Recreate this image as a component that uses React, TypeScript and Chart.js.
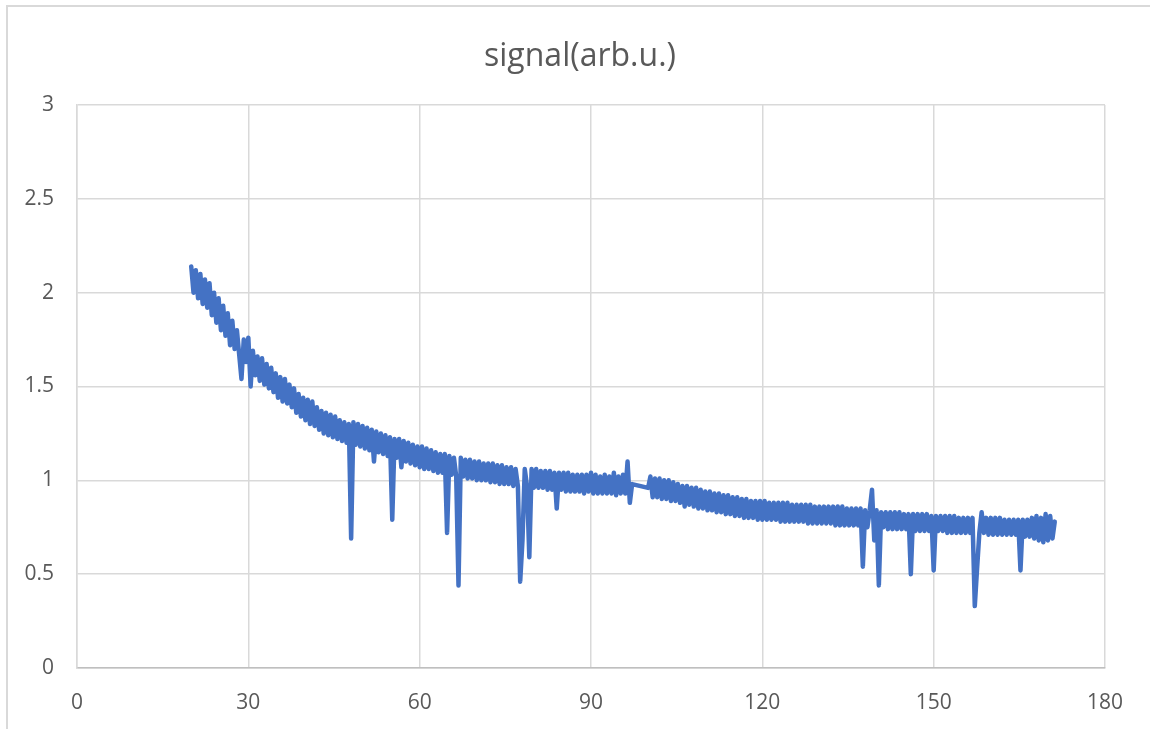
import React, { useEffect, useRef } from "react";
import { Chart, registerables } from "chart.js";

Chart.register(...registerables);

const chartTitle = "signal(arb.u.)";

// sampling grid of the two recorded runs (x in arbitrary units)
const xStartA = 20.0;
const xStartB = 100.0;
const xStep = 0.4;

const signalA = [
  2.14, 2.00, 2.12, 1.97, 2.10, 1.94, 2.07, 1.92, 2.05, 1.88,
  2.00, 1.84, 1.97, 1.80, 1.93, 1.77, 1.89, 1.72, 1.85, 1.70,
  1.80, 1.67, 1.54, 1.75, 1.63, 1.76, 1.50, 1.69, 1.56, 1.66,
  1.53, 1.65, 1.51, 1.62, 1.49, 1.60, 1.47, 1.57, 1.44, 1.55,
  1.42, 1.54, 1.41, 1.51, 1.39, 1.49, 1.36, 1.46, 1.34, 1.44,
  1.32, 1.43, 1.30, 1.42, 1.29, 1.39, 1.27, 1.37, 1.25, 1.36,
  1.24, 1.35, 1.23, 1.34, 1.22, 1.32, 1.21, 1.31, 1.20, 1.30,
  0.69, 1.31, 1.19, 1.30, 1.18, 1.29, 1.17, 1.28, 1.16, 1.27,
  1.10, 1.26, 1.15, 1.25, 1.14, 1.24, 1.13, 1.23, 0.79, 1.22,
  1.12, 1.22, 1.07, 1.21, 1.10, 1.20, 1.09, 1.19, 1.08, 1.18,
  1.07, 1.18, 1.06, 1.17, 1.06, 1.16, 1.05, 1.15, 1.04, 1.14,
  1.04, 1.14, 0.72, 1.13, 1.03, 1.12, 1.02, 0.44, 1.12, 1.02,
  1.11, 1.01, 1.11, 1.01, 1.10, 1.00, 1.10, 1.00, 1.09, 1.00,
  1.09, 0.99, 1.09, 0.99, 1.08, 0.98, 1.08, 0.98, 1.07, 0.98,
  1.07, 0.97, 1.06, 0.97, 0.46, 0.68, 1.06, 0.97, 0.59, 1.06,
  0.96, 1.06, 0.96, 1.05, 0.96, 1.05, 0.95, 1.05, 0.95, 1.04,
  0.85, 1.04, 0.95, 1.04, 0.94, 1.04, 0.94, 1.03, 0.94, 1.03,
  0.94, 1.03, 0.93, 1.03, 0.94, 1.04, 0.93, 1.03, 0.93, 1.02,
  0.93, 1.03, 0.93, 1.02, 0.93, 1.04, 0.92, 1.02, 0.93, 1.03,
  0.93, 1.10, 0.88, 0.98,
];

const signalB = [
  0.96, 1.02, 0.91, 1.01, 0.91, 1.01, 0.90, 1.00, 0.90, 1.00,
  0.89, 0.99, 0.89, 0.98, 0.88, 0.97, 0.86, 0.97, 0.87, 0.96,
  0.86, 0.96, 0.85, 0.95, 0.85, 0.94, 0.84, 0.94, 0.84, 0.93,
  0.83, 0.93, 0.83, 0.92, 0.82, 0.92, 0.82, 0.91, 0.81, 0.91,
  0.81, 0.90, 0.80, 0.90, 0.80, 0.89, 0.80, 0.89, 0.79, 0.89,
  0.79, 0.89, 0.79, 0.88, 0.79, 0.88, 0.79, 0.88, 0.78, 0.88,
  0.78, 0.88, 0.78, 0.87, 0.78, 0.87, 0.78, 0.87, 0.78, 0.87,
  0.77, 0.87, 0.77, 0.86, 0.77, 0.86, 0.77, 0.86, 0.77, 0.86,
  0.77, 0.86, 0.76, 0.86, 0.76, 0.86, 0.76, 0.85, 0.76, 0.85,
  0.76, 0.85, 0.76, 0.85, 0.54, 0.84, 0.75, 0.84, 0.95, 0.68,
  0.84, 0.44, 0.83, 0.75, 0.83, 0.74, 0.83, 0.74, 0.83, 0.74,
  0.83, 0.74, 0.82, 0.74, 0.82, 0.50, 0.82, 0.73, 0.82, 0.73,
  0.82, 0.73, 0.82, 0.73, 0.81, 0.52, 0.81, 0.73, 0.81, 0.73,
  0.81, 0.72, 0.81, 0.72, 0.81, 0.72, 0.80, 0.72, 0.80, 0.72,
  0.80, 0.72, 0.80, 0.33, 0.53, 0.72, 0.83, 0.72, 0.80, 0.71,
  0.80, 0.71, 0.80, 0.71, 0.80, 0.71, 0.79, 0.71, 0.79, 0.71,
  0.79, 0.71, 0.79, 0.52, 0.79, 0.70, 0.79, 0.70, 0.80, 0.69,
  0.81, 0.68, 0.80, 0.67, 0.82, 0.68, 0.81, 0.69, 0.78,
];

const xTicks = [0, 30, 60, 90, 120, 150, 180];
const yTicks = [0, 0.5, 1, 1.5, 2, 2.5, 3];

const FONT = "'Open Sans', 'Noto Sans', sans-serif";
const TEXT = "#595959";
const GRID = "#d9d9d9";

export default function App() {
  const ref = useRef<HTMLCanvasElement | null>(null);

  useEffect(() => {
    if (!ref.current) return;
    const pts = [
      ...signalA.map((y, i) => ({ x: Math.round((xStartA + i * xStep) * 10) / 10, y })),
      ...signalB.map((y, i) => ({ x: Math.round((xStartB + i * xStep) * 10) / 10, y })),
    ];
    const chart = new Chart(ref.current, {
      type: "scatter",
      data: {
        datasets: [
          {
            label: chartTitle,
            data: pts,
            showLine: true,
            borderColor: "#4472C4",
            backgroundColor: "#4472C4",
            borderWidth: 4.5,
            borderCapStyle: "round",
            borderJoinStyle: "round",
            pointRadius: 0,
            pointHoverRadius: 0,
            tension: 0,
          },
        ],
      },
      options: {
        animation: false,
        responsive: false,
        maintainAspectRatio: false,
        layout: { padding: { left: 10, right: 0, top: 0, bottom: 0 } },
        plugins: {
          legend: { display: false },
          tooltip: { enabled: false },
          title: {
            display: true,
            text: chartTitle,
            color: TEXT,
            font: { family: FONT, size: 32, weight: "normal", lineHeight: 1.2 },
            padding: { top: 38, bottom: 28.6 },
          },
        },
        scales: {
          x: {
            type: "linear",
            min: 0,
            max: 180,
            afterBuildTicks: (s: any) => {
              s.ticks = xTicks.map((v) => ({ value: v }));
            },
            afterFit: (s: any) => {
              s.height = 61;
            },
            ticks: {
              color: TEXT,
              font: { family: FONT, size: 21 },
              padding: 22,
              maxRotation: 0,
              autoSkip: false,
              callback: (v: any) => String(v),
            },
            grid: { color: GRID, lineWidth: 1.5, drawTicks: false },
            border: { display: true, color: "#bfbfbf", width: 1.5 },
          },
          y: {
            type: "linear",
            min: 0,
            max: 3,
            afterBuildTicks: (s: any) => {
              s.ticks = yTicks.map((v) => ({ value: v }));
            },
            afterFit: (s: any) => {
              s.width = 67;
            },
            ticks: {
              color: TEXT,
              font: { family: FONT, size: 21 },
              padding: 23,
              autoSkip: false,
              callback: (v: any) => String(v),
            },
            grid: { color: GRID, lineWidth: 1.5, drawTicks: false },
            border: { display: true, color: GRID, width: 1.5 },
          },
          yRight: {
            type: "linear",
            position: "right",
            display: true,
            grid: { display: false, drawTicks: false },
            border: { display: false },
            ticks: { display: false },
            afterFit: (s: any) => {
              s.width = 45;
            },
          },
        },
      },
    });
    return () => chart.destroy();
  }, []);

  return (
    <div style={{ position: "fixed", left: 0, top: 0, width: 1150, height: 729, background: "#ffffff", overflow: "hidden" }}>
      <div
        style={{
          position: "absolute",
          left: 6,
          top: 5,
          width: 1200,
          height: 800,
          borderLeft: "2px solid #d9d9d9",
          borderTop: "2px solid #d9d9d9",
        }}
      />
      <canvas ref={ref} width={1150} height={729} style={{ position: "absolute", left: 0, top: 0, width: 1150, height: 729 }} />
    </div>
  );
}
